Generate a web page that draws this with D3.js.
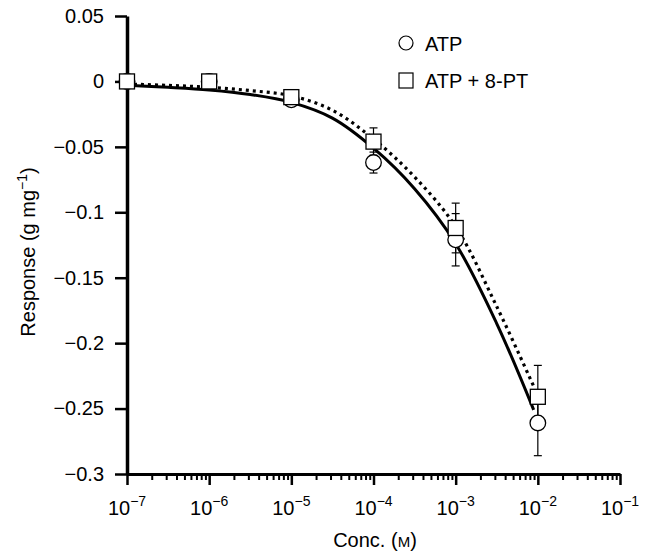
<!DOCTYPE html>
<html>
<head>
<meta charset="utf-8">
<script src="https://cdn.jsdelivr.net/npm/d3@7"></script>
<style>
  body { margin: 0; background: #fff; }
  text { font-family: "Liberation Sans", Arial, sans-serif; fill: #000; }
</style>
</head>
<body>
<div id="chart"></div>
<script>
// data
var concs = [1e-7, 1e-6, 1e-5, 1e-4, 1e-3, 1e-2];
var atpMean = [0, 0, -0.014, -0.062, -0.121, -0.261];
var atpErr = [0, 0, 0, 0.008, 0.02, 0.025];
var ptMean = [0, 0, -0.012, -0.046, -0.112, -0.241];
var ptErr = [0, 0, 0, 0.0105, 0.019, 0.024];

// fitted curves
var curveConcs = [1e-7, 3.16e-7, 1e-6, 3.16e-6, 1e-5, 3.16e-5, 1e-4, 3.16e-4, 1e-3, 3.16e-3, 8.9e-3];
var atpFit = [-0.003, -0.0045, -0.0065, -0.010, -0.016, -0.028, -0.051, -0.082, -0.124, -0.185, -0.251];
var ptFit = [-0.002, -0.003, -0.0045, -0.007, -0.011, -0.022, -0.044, -0.073, -0.111, -0.172, -0.233];

var yTicks = [0.05, 0, -0.05, -0.1, -0.15, -0.2, -0.25, -0.3];
var xExps = ["\u22127", "\u22126", "\u22125", "\u22124", "\u22123", "\u22122", "\u22121"];

var width = 651, height = 553;

var svg = d3.select("#chart")
  .append("svg")
  .attr("width", width)
  .attr("height", height);

var x = d3.scaleLog().domain([1e-7, 1e-1]).range([127, 620]);
var y = d3.scaleLinear().domain([-0.3, 0.05]).range([474, 16]);

// x axis: minor ticks
var allTicks = x.ticks();
var majors = allTicks.filter(function (d) { return Math.abs(Math.log10(d) - Math.round(Math.log10(d))) < 1e-9; });
var minors = allTicks.filter(function (d) { return majors.indexOf(d) < 0; });

var xMinor = svg.append("g")
  .attr("transform", "translate(0,474)")
  .call(d3.axisBottom(x).tickValues(minors).tickSize(6).tickFormat(""));
xMinor.select(".domain").remove();
xMinor.selectAll("line").attr("stroke-width", 2);

var xMajor = svg.append("g")
  .attr("transform", "translate(0,474)")
  .call(d3.axisBottom(x).tickValues(majors).tickSize(11).tickSizeOuter(0).tickFormat(""));
xMajor.select(".domain").attr("stroke-width", 3);
xMajor.selectAll("line").attr("stroke-width", 2.5);

// x tick labels as 10 with superscript
majors.forEach(function (d, i) {
  var t = svg.append("text")
    .attr("x", x(d))
    .attr("y", 515)
    .attr("text-anchor", "middle")
    .style("font-size", "20px");
  t.append("tspan").text("10");
  t.append("tspan").attr("dy", -9).style("font-size", "14px").text(xExps[i]);
});

// y axis
var yAxis = svg.append("g")
  .attr("transform", "translate(127,0)")
  .call(d3.axisLeft(y).tickValues(yTicks).tickSize(12).tickSizeOuter(0)
    .tickFormat(function (d) { return d === 0 ? "0" : (d < 0 ? "\u2212" + Math.abs(d) : String(d)); }));
yAxis.select(".domain").attr("stroke-width", 3.5);
yAxis.selectAll("line").attr("stroke-width", 2.5);
yAxis.selectAll("text")
  .attr("x", -23)
  .style("font-size", "20px")
  .style("font-family", "Liberation Sans, Arial, sans-serif")
  .attr("fill", "#000");

// axis titles
var yl = svg.append("text")
  .attr("transform", "translate(35,252) rotate(-90)")
  .attr("text-anchor", "middle")
  .style("font-size", "20px");
yl.append("tspan").text("Response (g mg");
yl.append("tspan").attr("dy", -8).style("font-size", "14px").text("\u22121");
yl.append("tspan").attr("dy", 8).text(")");

var xl = svg.append("text")
  .attr("x", 375)
  .attr("y", 547)
  .attr("text-anchor", "middle")
  .style("font-size", "20px");
xl.append("tspan").text("Conc. (");
xl.append("tspan").style("font-size", "15px").text("M");
xl.append("tspan").text(")");

// fitted curves
var line = function (vals) {
  return d3.line()
    .x(function (d, i) { return x(curveConcs[i]); })
    .y(function (d) { return y(d); })
    .curve(d3.curveCatmullRom.alpha(0.5))(vals);
};

svg.append("path")
  .attr("d", line(atpFit))
  .attr("fill", "none")
  .attr("stroke", "#000")
  .attr("stroke-width", 3);

svg.append("path")
  .attr("d", line(ptFit))
  .attr("fill", "none")
  .attr("stroke", "#000")
  .attr("stroke-width", 3.2)
  .attr("stroke-dasharray", "3,4");

// error bars
function errorBars(means, errs) {
  var g = svg.append("g");
  concs.forEach(function (c, i) {
    if (!errs[i]) return;
    var cx = x(c), top = y(means[i] + errs[i]), bot = y(means[i] - errs[i]);
    g.append("line").attr("x1", cx).attr("x2", cx).attr("y1", top).attr("y2", bot)
      .attr("stroke", "#000").attr("stroke-width", 1.2);
    [top, bot].forEach(function (yy) {
      g.append("line").attr("x1", cx - 4).attr("x2", cx + 4).attr("y1", yy).attr("y2", yy)
        .attr("stroke", "#000").attr("stroke-width", 1.2);
    });
  });
}
errorBars(atpMean, atpErr);
errorBars(ptMean, ptErr);

// markers
svg.append("g").selectAll("circle")
  .data(atpMean)
  .enter()
  .append("circle")
  .attr("cx", function (d, i) { return x(concs[i]); })
  .attr("cy", function (d) { return y(d); })
  .attr("r", 7.8)
  .attr("fill", "#fff")
  .attr("stroke", "#000")
  .attr("stroke-width", 1.3);

svg.append("g").selectAll("rect")
  .data(ptMean)
  .enter()
  .append("rect")
  .attr("x", function (d, i) { return x(concs[i]) - 7.5; })
  .attr("y", function (d) { return y(d) - 7.5; })
  .attr("width", 15)
  .attr("height", 15)
  .attr("fill", "#fff")
  .attr("stroke", "#000")
  .attr("stroke-width", 1.3);

// legend
svg.append("circle").attr("cx", 406).attr("cy", 43).attr("r", 7)
  .attr("fill", "#fff").attr("stroke", "#000").attr("stroke-width", 1.2);
svg.append("text").attr("x", 425).attr("y", 51).style("font-size", "20px").text("ATP");
svg.append("rect").attr("x", 399).attr("y", 73).attr("width", 14).attr("height", 15)
  .attr("fill", "#fff").attr("stroke", "#000").attr("stroke-width", 1.2);
svg.append("text").attr("x", 425).attr("y", 88).style("font-size", "20px").text("ATP + 8-PT");
</script>
</body>
</html>
